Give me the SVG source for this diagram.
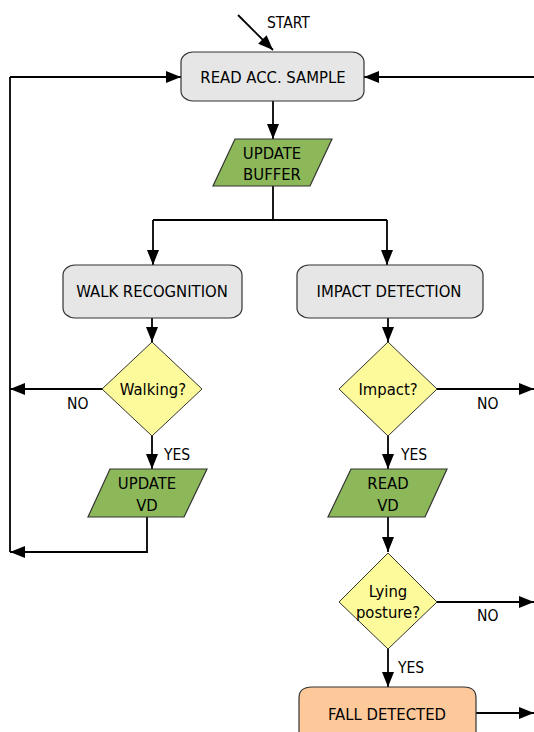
<svg xmlns="http://www.w3.org/2000/svg" width="534" height="732" viewBox="0 0 534 732">
<defs>
<marker id="ah" viewBox="0 0 15 12" refX="15" refY="6" markerWidth="15" markerHeight="12" markerUnits="userSpaceOnUse" orient="auto">
<path d="M0,0 L15,6 L0,12 Z" fill="#000"/>
</marker>
<style>
text{font-family:"DejaVu Sans Condensed","DejaVu Sans",sans-serif;font-stretch:condensed;font-size:16.5px;fill:#000;text-anchor:middle}
.lbl{font-size:15.5px;text-anchor:start}
.proc{fill:#e6e6e6;stroke:#333;stroke-width:1.2}
.io{fill:#8db85a;stroke:#333;stroke-width:1.2}
.dec{fill:#fdfa9b;stroke:#333;stroke-width:1}
.end{fill:#fdc99b;stroke:#333;stroke-width:1.2}
.c{fill:none;stroke:#000;stroke-width:1.8}
.ca{fill:none;stroke:#000;stroke-width:1.8;marker-end:url(#ah)}
</style>
</defs>
<g id="connectors">
<path class="ca" d="M238,15 L273,50"/>
<path class="ca" d="M10,77 L181,77"/>
<path class="ca" d="M534,77 L364,77"/>
<path class="ca" d="M273,101 L273,139"/>
<path class="c" d="M273,186 L273,220"/>
<path class="c" d="M153,220 L387,220"/>
<path class="ca" d="M153,220 L153,265"/>
<path class="ca" d="M387,220 L387,265"/>
<path class="ca" d="M152,318 L152,342"/>
<path class="ca" d="M388,318 L388,342"/>
<path class="ca" d="M102,389 L10,389"/>
<path class="ca" d="M437,389 L534,389"/>
<path class="ca" d="M152,436 L152,469"/>
<path class="ca" d="M388,436 L388,469"/>
<path class="c" d="M147,517 L147,552 L10,552"/>
<path class="ca" d="M147,552 L10,552"/>
<path class="c" d="M10,77 L10,552"/>
<path class="ca" d="M388,517 L388,552"/>
<path class="ca" d="M437,602 L534,602"/>
<path class="ca" d="M388,649 L388,687"/>
<path class="ca" d="M476,713 L534,713"/>
<text class="lbl" x="267" y="28">START</text>
<text class="lbl" x="67" y="409">NO</text>
<text class="lbl" x="477" y="409">NO</text>
<text class="lbl" x="164" y="460">YES</text>
<text class="lbl" x="401" y="460">YES</text>
<text class="lbl" x="477" y="621">NO</text>
<text class="lbl" x="398" y="673">YES</text>
</g>
<g id="read_acc">
<rect class="proc" x="181" y="52" width="183" height="49" rx="12" ry="10"/>
<text x="273" y="83">READ ACC. SAMPLE</text>
</g>
<g id="update_buffer">
<path class="io" d="M235,139 L332,139 L310,186 L213,186 Z"/>
<text x="272" y="159">UPDATE</text>
<text x="272" y="180">BUFFER</text>
</g>
<g id="walk_recognition">
<rect class="proc" x="63" y="265" width="179" height="53" rx="12" ry="10"/>
<text x="152" y="297">WALK RECOGNITION</text>
</g>
<g id="impact_detection">
<rect class="proc" x="297" y="265" width="186" height="53" rx="12" ry="10"/>
<text x="389" y="297">IMPACT DETECTION</text>
</g>
<g id="walking">
<path class="dec" d="M152,342 L202,389 L152,436 L102,389 Z"/>
<text x="153" y="395">Walking?</text>
</g>
<g id="impact">
<path class="dec" d="M388,342 L437,389 L388,436 L339,389 Z"/>
<text x="388" y="395">Impact?</text>
</g>
<g id="update_vd">
<path class="io" d="M110,469 L207,469 L184,517 L88,517 Z"/>
<text x="147" y="489">UPDATE</text>
<text x="147" y="511">VD</text>
</g>
<g id="read_vd">
<path class="io" d="M351,469 L447,469 L425,517 L328,517 Z"/>
<text x="388" y="489">READ</text>
<text x="388" y="511">VD</text>
</g>
<g id="lying">
<path class="dec" d="M388,553 L437,602 L388,649 L339,602 Z"/>
<text x="388" y="597">Lying</text>
<text x="388" y="618">posture?</text>
</g>
<g id="fall_detected">
<path class="end" d="M299,740 L299,698 Q299,687 312,687 L464,687 Q476,687 476,698 L476,740 Z"/>
<text x="387" y="720">FALL DETECTED</text>
</g>
</svg>
